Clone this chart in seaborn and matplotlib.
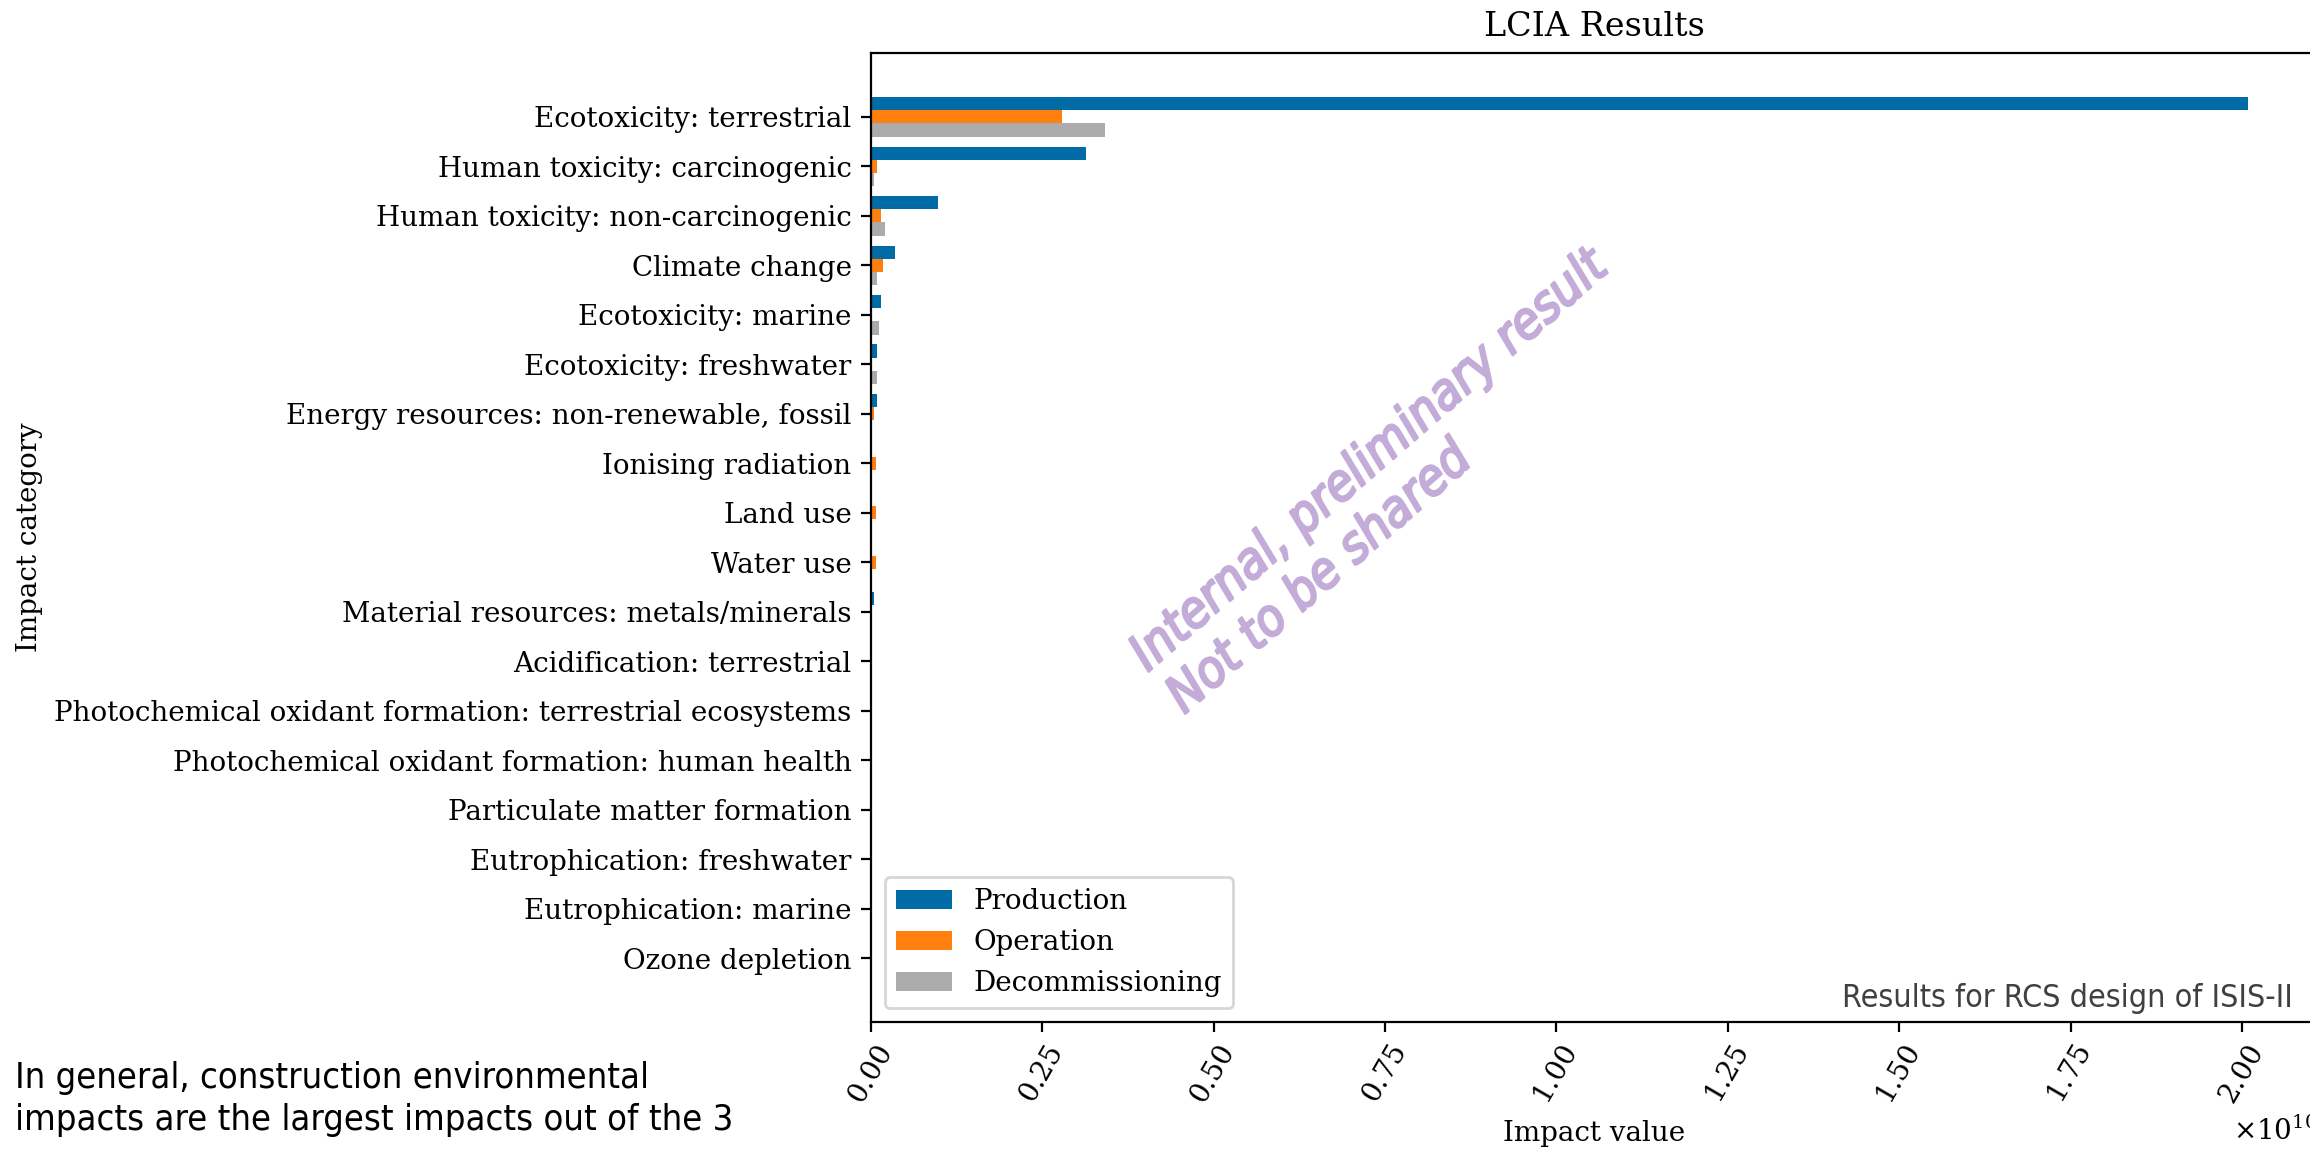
import matplotlib
matplotlib.use("Agg")
import matplotlib.pyplot as plt
import matplotlib.patheffects as pe
from matplotlib.ticker import MultipleLocator
import numpy as np
import pandas as pd
import seaborn as sns

categories = [
    "Ecotoxicity: terrestrial",
    "Human toxicity: carcinogenic",
    "Human toxicity: non-carcinogenic",
    "Climate change",
    "Ecotoxicity: marine",
    "Ecotoxicity: freshwater",
    "Energy resources: non-renewable, fossil",
    "Ionising radiation",
    "Land use",
    "Water use",
    "Material resources: metals/minerals",
    "Acidification: terrestrial",
    "Photochemical oxidant formation: terrestrial ecosystems",
    "Photochemical oxidant formation: human health",
    "Particulate matter formation",
    "Eutrophication: freshwater",
    "Eutrophication: marine",
    "Ozone depletion",
]
production = [2.009e10, 3.13e9, 9.8e8, 3.45e8, 1.4e8, 8.8e7, 8.8e7, 2e6, 2e6, 2e6,
              4.5e7, 1e6, 1e6, 1e6, 1e6, 1e6, 1e6, 0.0]
operation = [2.78e9, 8.8e7, 1.42e8, 1.7e8, 2e6, 2e6, 5e7, 8e7, 8e7, 8e7,
             1e6, 1e6, 1e6, 1e6, 1e6, 1e6, 1e6, 0.0]
decommissioning = [3.42e9, 4e7, 2.0e8, 8.3e7, 1.13e8, 8.8e7, 2e6, 1e6, 1e6, 1e6,
                   1e6, 1e6, 1e6, 1e6, 1e6, 1e6, 1e6, 0.0]
phases = ["Production", "Operation", "Decommissioning"]
phase_colors = ["#006BA4", "#FF800E", "#ABABAB"]

plt.rcParams["font.family"] = "serif"
plt.rcParams["mathtext.fontset"] = "dejavuserif"
plt.rcParams["axes.formatter.use_mathtext"] = True

df = pd.DataFrame({
    "Impact category": categories * 3,
    "Impact value": production + operation + decommissioning,
    "Phase": np.repeat(phases, len(categories)),
})

fig = plt.figure(figsize=(11.55, 5.745), dpi=200)
# axes runs a little past the right edge of the figure, as in the original
ax = fig.add_axes([871 / 2310, 127 / 1149, 1446 / 2310, 969 / 1149])
sns.barplot(data=df, y="Impact category", x="Impact value", hue="Phase",
            hue_order=phases, palette=phase_colors, saturation=1,
            orient="h", linewidth=0, ax=ax)

n = len(categories)
pad = 0.05 * (n - 1 + 0.8)
ax.set_ylim(n - 1 + 0.4 + pad, -0.4 - pad)
ax.xaxis.set_major_locator(MultipleLocator(0.25e10))
plt.setp(ax.get_xticklabels(), rotation=60)

ax.set_title("LCIA Results")
ax.set_xlabel("Impact value")
ax.set_ylabel("Impact category")
handles, labels = ax.get_legend_handles_labels()
ax.legend(handles, labels, loc="lower left")

sans = dict(family="DejaVu Sans", fontstretch="condensed")
fig.text(2293 / 2310, 1 - 1007 / 1149, "Results for RCS design of ISIS-II",
         ha="right", va="baseline", color="#404040", fontsize=11.5, **sans)
# va="baseline" on multi-line text pins the last line
fig.text(15 / 2310, 1 - 1130 / 1149,
         "In general, construction environmental\nimpacts are the largest impacts out of the 3",
         ha="left", va="baseline", color="black", fontsize=13.0, linespacing=1.3, **sans)
wm_color = "#C4ACD9"
fig.text(1388 / 2310, 1 - 482 / 1149, "Internal, preliminary result\nNot to be shared",
         ha="center", va="center", rotation=41, rotation_mode="anchor",
         multialignment="left", color=wm_color, fontsize=18.3, style="italic",
         linespacing=1.15,
         path_effects=[pe.withStroke(linewidth=0.9, foreground=wm_color)], **sans)

fig.savefig("out.png", dpi=200)
